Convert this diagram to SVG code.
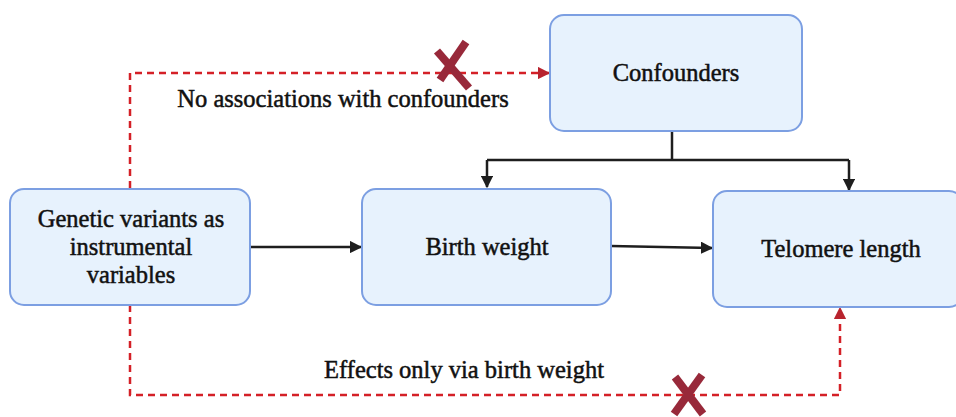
<svg xmlns="http://www.w3.org/2000/svg" width="956" height="417" viewBox="0 0 956 417">
<defs>
<style>
.box{fill:#e7f2fd;stroke:#7c9fe2;stroke-width:2}
.t{font-family:'Liberation Serif','DejaVu Serif','Times New Roman',serif;font-size:24.5px;fill:#111;text-anchor:middle;stroke:#111;stroke-width:0.5}
.blk{fill:none;stroke:#1e1e1e;stroke-width:2.5}
.red{fill:none;stroke:#d42027;stroke-width:2.5;stroke-dasharray:7 5}
.x{stroke:#98293a;stroke-width:8;stroke-linecap:butt}
</style>
<marker id="ab" viewBox="0 0 10 10" refX="9" refY="5" markerWidth="5" markerHeight="5" orient="auto" markerUnits="strokeWidth"><path d="M0,0L10,5L0,10z" fill="#1e1e1e"/></marker>
<marker id="ar" viewBox="0 0 10 10" refX="9" refY="5" markerWidth="5" markerHeight="5" orient="auto" markerUnits="strokeWidth"><path d="M0,0L10,5L0,10z" fill="#b8232e"/></marker>
</defs>
<rect width="956" height="417" fill="#fff"/>
<g id="connectors">
<path class="red" d="M130,188V73H549" marker-end="url(#ar)"/>
<path class="red" d="M130,305V395H840V308" marker-end="url(#ar)"/>
<path class="blk" d="M672,131V160"/>
<path class="blk" d="M487,160H849"/>
<path class="blk" d="M487,160V187" marker-end="url(#ab)"/>
<path class="blk" d="M849,160V190" marker-end="url(#ab)"/>
<path class="blk" d="M250,247H361" marker-end="url(#ab)"/>
<path class="blk" d="M611,246L712,248" marker-end="url(#ab)"/>
<line class="x" x1="437" y1="51" x2="469" y2="88"/>
<line class="x" x1="466" y1="42" x2="440" y2="80"/>
<line class="x" x1="675" y1="377" x2="703" y2="414"/>
<line class="x" x1="702" y1="375" x2="674" y2="414"/>
<text class="t" x="343" y="107">No associations with confounders</text>
<text class="t" x="464" y="378">Effects only via birth weight</text>
</g>
<g id="confounders">
<rect class="box" x="550" y="15" width="252" height="116" rx="14"/>
<text class="t" x="676" y="81">Confounders</text>
</g>
<g id="genetic">
<rect class="box" x="10" y="189" width="240" height="116" rx="14"/>
<text class="t" x="131" y="227">Genetic variants as</text>
<text class="t" x="131" y="255">instrumental</text>
<text class="t" x="131" y="283">variables</text>
</g>
<g id="birth">
<rect class="box" x="362" y="189" width="249" height="116" rx="14"/>
<text class="t" x="487" y="255">Birth weight</text>
</g>
<g id="telomere">
<rect class="box" x="713" y="191" width="250" height="116" rx="14"/>
<text class="t" x="841" y="257">Telomere length</text>
</g>
</svg>
